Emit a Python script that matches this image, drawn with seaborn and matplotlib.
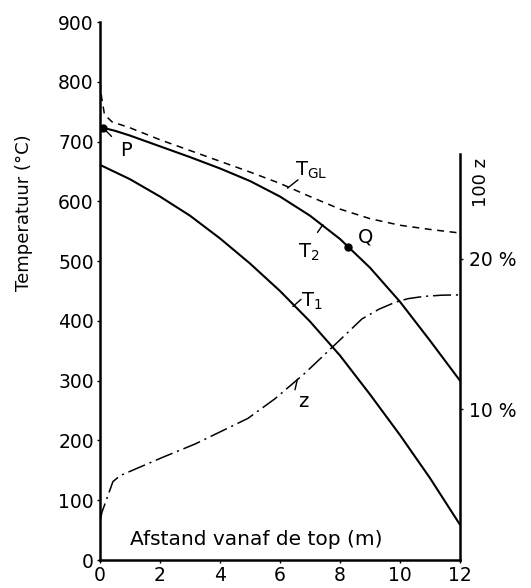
import numpy as np
import pandas as pd
import matplotlib
matplotlib.use("Agg")
import matplotlib.pyplot as plt
import seaborn as sns

# ---- data ----
x_t1 = [0.0, 1.0, 2.0, 3.0, 4.0, 5.0, 6.0, 7.0, 8.0, 9.0, 10.0, 11.0, 12.0]
t1 = [661, 637, 608, 576, 538, 496, 450, 399, 342, 277, 209, 137, 59]

x_t2 = [0.1, 0.5, 1.0, 2.0, 3.0, 4.0, 5.0, 6.0, 7.0, 8.0, 9.0, 10.0, 11.0, 12.0]
t2 = [723, 718, 710, 692, 674, 655, 634, 608, 576, 537, 489, 432, 367, 300]

x_tgl = [0.0, 0.05, 0.15, 0.4, 1.0, 2.0, 3.0, 4.0, 5.0, 6.0, 7.0, 8.0, 9.0, 10.0, 11.0, 12.0]
tgl = [800, 775, 745, 733, 723, 703, 685, 667, 649, 630, 608, 587, 571, 560, 553, 547]

x_z = [0.0, 0.07, 0.43, 0.67, 2.07, 3.17, 4.93, 5.83, 6.83, 7.73, 8.73, 9.3, 9.83, 10.27, 10.8, 11.4, 12.0]
z_pct = [2.6, 3.2, 5.2, 5.6, 6.8, 7.7, 9.4, 10.7, 12.4, 14.1, 16.0, 16.65, 17.1, 17.35, 17.5, 17.58, 17.6]

point_P = (0.1, 723)
point_Q = (8.27, 524)

x_ticks = [0, 2, 4, 6, 8, 10, 12]
y_ticks = [0, 100, 200, 300, 400, 500, 600, 700, 800, 900]
z_ticks = [10, 20]
z_tick_labels = ["10 %", "20 %"]

T_PER_PCT = 25.2  # right axis scale: 1 % of z per 25.2 degrees

sns.set_style("ticks")
plt.rcParams["font.family"] = ["DejaVu Sans"]
plt.rcParams["lines.scale_dashes"] = False
for k in ["text.color", "axes.labelcolor", "xtick.color", "ytick.color", "axes.edgecolor"]:
    plt.rcParams[k] = "black"

fig = plt.figure(figsize=(5.31, 5.88), dpi=100)
ax = fig.add_axes([100 / 531, 28 / 588, 360 / 531, 538 / 588])

df1 = pd.DataFrame({"x": x_t1, "T": t1})
df2 = pd.DataFrame({"x": x_t2, "T": t2})
dfg = pd.DataFrame({"x": x_tgl, "T": tgl})
dfz = pd.DataFrame({"x": x_z, "z": z_pct})

sns.lineplot(data=df1, x="x", y="T", ax=ax, color="black", lw=1.5, sort=False)
sns.lineplot(data=df2, x="x", y="T", ax=ax, color="black", lw=1.5, sort=False)
sns.lineplot(data=dfg, x="x", y="T", ax=ax, color="black", lw=1.1, sort=False)
ax.lines[-1].set_dashes((5, 4))

ax.plot([point_P[0]], [point_P[1]], "o", color="black", ms=5)
ax.plot([point_Q[0]], [point_Q[1]], "o", color="black", ms=5)

ax.set_xlim(0, 12)
ax.set_ylim(0, 900)
ax.set_xticks(x_ticks)
ax.set_yticks(y_ticks)
ax.set_xlabel("")
ax.set_ylabel("Temperatuur (°C)", fontsize=13)
ax.yaxis.set_label_coords(-0.186, 0.645)
ax.tick_params(axis="both", labelsize=13.5, length=2.5, width=1, pad=2)
for s in ["left", "bottom"]:
    ax.spines[s].set_linewidth(1.8)
ax.spines["top"].set_visible(False)
ax.spines["right"].set_visible(False)

# secondary axis for z
ax2 = ax.twinx()
sns.lineplot(data=dfz, x="x", y="z", ax=ax2, color="black", lw=1.1, sort=False)
ax2.lines[-1].set_dashes((13, 3.5, 1.5, 3.5))
ax2.set_ylim(0, 900 / T_PER_PCT)
ax2.set_xlim(0, 12)
ax2.set_yticks(z_ticks)
ax2.set_yticklabels(z_tick_labels)
ax2.set_ylabel("")
ax2.tick_params(axis="y", labelsize=13.5, length=2.5, width=1, pad=4)
for s in ["left", "top", "bottom"]:
    ax2.spines[s].set_visible(False)
ax2.spines["right"].set_linewidth(1.8)
ax2.spines["right"].set_bounds(0, 680 / T_PER_PCT)
ax2.text(1.058, 631 / T_PER_PCT, "100 z", transform=ax2.get_yaxis_transform(),
         rotation=90, ha="center", va="center", fontsize=13)

# labels inside the plot
ax.text(1.0, 34, "Afstand vanaf de top (m)", fontsize=14.5, ha="left", va="center")

tick_style = dict(arrowstyle="-", color="black", lw=1.0, shrinkA=0, shrinkB=0)

ax.annotate("P", xy=point_P, xytext=(0.85, 685), fontsize=14,
            ha="center", va="center",
            arrowprops=dict(arrowstyle="-", color="black", lw=1.0, shrinkA=5, shrinkB=3))
ax.text(8.85, 541, "Q", fontsize=14, ha="center", va="center")

ax.annotate("", xy=(6.25, 622), xytext=(6.6, 636), arrowprops=tick_style)
ax.text(7.05, 652, r"T$_\mathregular{GL}$", fontsize=14, ha="center", va="center")

ax.annotate("", xy=(7.43, 561), xytext=(7.25, 548), arrowprops=tick_style)
ax.text(6.95, 515, r"T$_\mathregular{2}$", fontsize=14, ha="center", va="center")

ax.annotate("", xy=(6.43, 424), xytext=(6.7, 436), arrowprops=tick_style)
ax.text(7.05, 432, r"T$_\mathregular{1}$", fontsize=14, ha="center", va="center")

ax2.annotate("", xy=(6.58, 12.0), xytext=(6.5, 11.3), arrowprops=tick_style)
ax2.text(6.77, 10.5, "z", fontsize=14, ha="center", va="center")

fig.savefig("out.png", dpi=100)
